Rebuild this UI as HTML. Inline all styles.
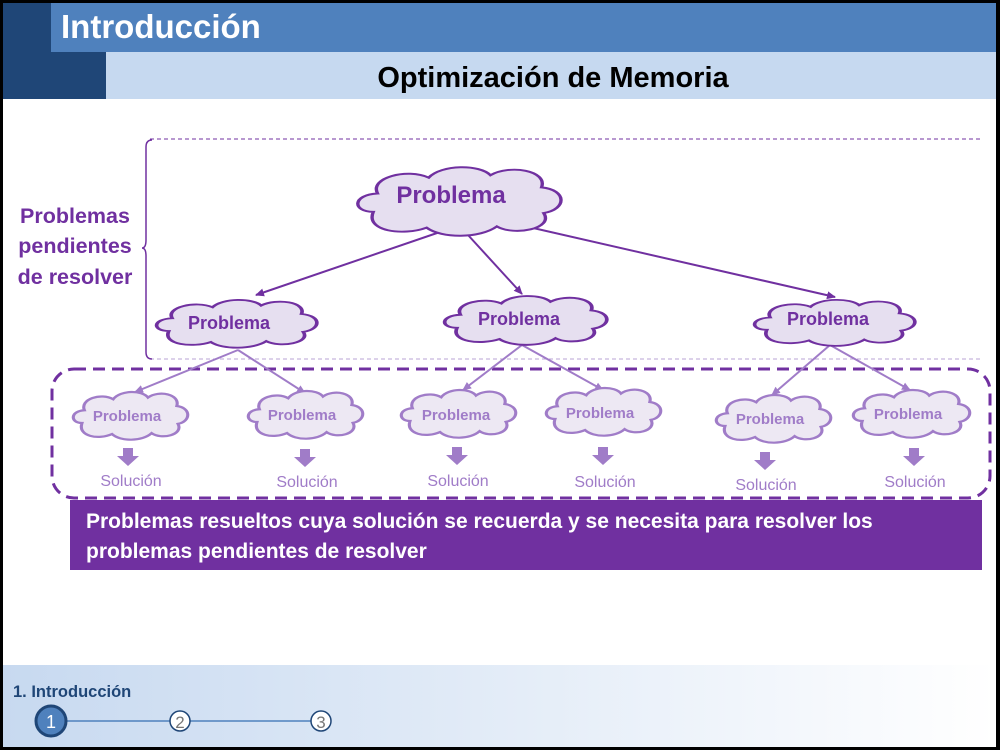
<!DOCTYPE html>
<html><head><meta charset="utf-8"><style>
html,body{margin:0;padding:0}
body{width:1000px;height:750px;position:relative;overflow:hidden;background:#fff;font-family:"Liberation Sans",sans-serif}
</style></head><body>
<svg width="1000" height="750" viewBox="0 0 1000 750" style="position:absolute;left:0;top:0">
<defs>
<linearGradient id="ft" x1="0" x2="1" y1="0" y2="0"><stop offset="0" stop-color="#c7d9f0"/><stop offset="1" stop-color="#ffffff"/></linearGradient>
<path id="cl" d="M10,40 C0,40 0,26 12,25 C8,12 26,4 36,12 C42,1 60,1 65,10 C74,1 92,6 89,20 C101,22 101,38 90,41 C95,54 76,60 68,52 C60,62 42,62 35,53 C24,60 6,56 10,40 Z"/>
<marker id="ad" markerWidth="10" markerHeight="10" refX="8" refY="5" orient="auto" markerUnits="userSpaceOnUse"><path d="M0,1 L9,5 L0,9 Z" fill="#7030a0"/></marker>
<marker id="al" markerWidth="10" markerHeight="10" refX="8" refY="5" orient="auto" markerUnits="userSpaceOnUse"><path d="M0,1 L9,5 L0,9 Z" fill="#a07cc8"/></marker>
</defs>
<rect x="0" y="0" width="1000" height="750" fill="#000"/>
<rect x="3" y="3" width="993" height="744" fill="#fff"/>
<rect x="3" y="3" width="993" height="49" fill="#4f81bd"/>
<rect x="3" y="3" width="48" height="96" fill="#1f4677"/>
<rect x="51" y="52" width="55" height="47" fill="#1f4677"/>
<rect x="106" y="52" width="890" height="47" fill="#c6d9f0"/>
<text x="61" y="38" font-size="33" font-weight="bold" fill="#fff">Introducción</text>
<text x="553" y="87" font-size="29" font-weight="bold" fill="#000" text-anchor="middle">Optimización de Memoria</text>
<rect x="3" y="665" width="993" height="82" fill="url(#ft)"/>
<text x="13" y="697" font-size="16.5" font-weight="bold" fill="#1f4677">1. Introducción</text>
<line x1="66" y1="721" x2="170" y2="721" stroke="#4f81bd" stroke-width="1.5"/>
<line x1="190" y1="721" x2="311" y2="721" stroke="#4f81bd" stroke-width="1.5"/>
<circle cx="51" cy="721" r="15" fill="#4f81bd" stroke="#1f4677" stroke-width="3"/>
<text x="51" y="728" font-size="18" fill="#fff" text-anchor="middle">1</text>
<circle cx="180" cy="721" r="10" fill="#fff" stroke="#1f4677" stroke-width="1.5"/>
<text x="180" y="728" font-size="17" fill="#777" text-anchor="middle">2</text>
<circle cx="321" cy="721" r="10" fill="#fff" stroke="#1f4677" stroke-width="1.5"/>
<text x="321" y="728" font-size="17" fill="#777" text-anchor="middle">3</text>
<line x1="150" y1="139" x2="982" y2="139" stroke="#7030a0" stroke-width="1" stroke-dasharray="4,3"/>
<line x1="150" y1="359" x2="982" y2="359" stroke="#b9a3d6" stroke-width="1" stroke-dasharray="4,3"/>
<path d="M152,140 Q146,140 146,147 L146,240 Q146,248 142,248 Q146,248 146,256 L146,352 Q146,359 152,359" fill="none" stroke="#7030a0" stroke-width="1.5"/>
<text font-size="21.5" font-weight="bold" fill="#7030a0" text-anchor="middle"><tspan x="75" y="223">Problemas</tspan><tspan x="75" y="253">pendientes</tspan><tspan x="75" y="284">de resolver</tspan></text>
<rect x="52" y="369" width="938" height="129" rx="22" fill="none" stroke="#7030a0" stroke-width="3" stroke-dasharray="12,7"/>
<rect x="70" y="500" width="912" height="70" fill="#7030a0"/>
<text font-size="21" font-weight="bold" fill="#fff"><tspan x="86" y="528">Problemas resueltos cuya solución se recuerda y se necesita para resolver los</tspan><tspan x="86" y="558">problemas pendientes de resolver</tspan></text>
<g stroke="#7030a0" stroke-width="2" fill="none">
<line x1="440" y1="232" x2="256" y2="295" marker-end="url(#ad)"/>
<line x1="468" y1="235" x2="522" y2="294" marker-end="url(#ad)"/>
<line x1="520" y1="225" x2="835" y2="297" marker-end="url(#ad)"/>
</g>
<g stroke="#a07cc8" stroke-width="2" fill="none">
<line x1="238" y1="350" x2="135" y2="392" marker-end="url(#al)"/>
<line x1="238" y1="350" x2="305" y2="393" marker-end="url(#al)"/>
<line x1="522" y1="345" x2="463" y2="390" marker-end="url(#al)"/>
<line x1="522" y1="345" x2="603" y2="390" marker-end="url(#al)"/>
<line x1="830" y1="345" x2="772" y2="395" marker-end="url(#al)"/>
<line x1="830" y1="345" x2="910" y2="390" marker-end="url(#al)"/>
</g>
<use href="#cl" transform="translate(352,163) scale(2.13,1.22)" fill="#e6dff0" stroke="#7030a0" stroke-width="1.6"/>
<text x="451" y="203" font-size="24" font-weight="bold" fill="#7030a0" text-anchor="middle">Problema</text>
<g fill="#e6dff0" stroke="#7030a0" stroke-width="2.2">
<use href="#cl" transform="translate(152,297) scale(1.68,0.85)"/>
<use href="#cl" transform="translate(440,293) scale(1.7,0.87)"/>
<use href="#cl" transform="translate(750,297) scale(1.68,0.82)"/>
</g>
<g font-size="18" font-weight="bold" fill="#7030a0" text-anchor="middle">
<text x="229" y="329">Problema</text>
<text x="519" y="325">Problema</text>
<text x="828" y="325">Problema</text>
</g>
<g fill="#ede8f3" stroke="#a07cc8" stroke-width="2.6">
<use href="#cl" transform="translate(70,389) scale(1.2,0.85)"/>
<use href="#cl" transform="translate(245,388) scale(1.2,0.85)"/>
<use href="#cl" transform="translate(398,387) scale(1.2,0.85)"/>
<use href="#cl" transform="translate(543,385) scale(1.2,0.85)"/>
<use href="#cl" transform="translate(713,392) scale(1.2,0.85)"/>
<use href="#cl" transform="translate(850,387) scale(1.22,0.85)"/>
</g>
<g font-size="15" font-weight="bold" fill="#a07cc8" text-anchor="middle">
<text x="127" y="421">Problema</text>
<text x="302" y="420">Problema</text>
<text x="456" y="420">Problema</text>
<text x="600" y="418">Problema</text>
<text x="770" y="424">Problema</text>
<text x="908" y="419">Problema</text>
</g>
<g fill="#a07cc8">
<path d="M123,448 h10 v8 h6 l-11,10 l-11,-10 h6z"/>
<path d="M300,449 h10 v8 h6 l-11,10 l-11,-10 h6z"/>
<path d="M452,447 h10 v8 h6 l-11,10 l-11,-10 h6z"/>
<path d="M598,447 h10 v8 h6 l-11,10 l-11,-10 h6z"/>
<path d="M760,452 h10 v8 h6 l-11,10 l-11,-10 h6z"/>
<path d="M909,448 h10 v8 h6 l-11,10 l-11,-10 h6z"/>
</g>
<g font-size="16" fill="#a07cc8" text-anchor="middle">
<text x="131" y="486">Solución</text>
<text x="307" y="487">Solución</text>
<text x="458" y="486">Solución</text>
<text x="605" y="487">Solución</text>
<text x="766" y="490">Solución</text>
<text x="915" y="487">Solución</text>
</g>
</svg>
</body></html>
